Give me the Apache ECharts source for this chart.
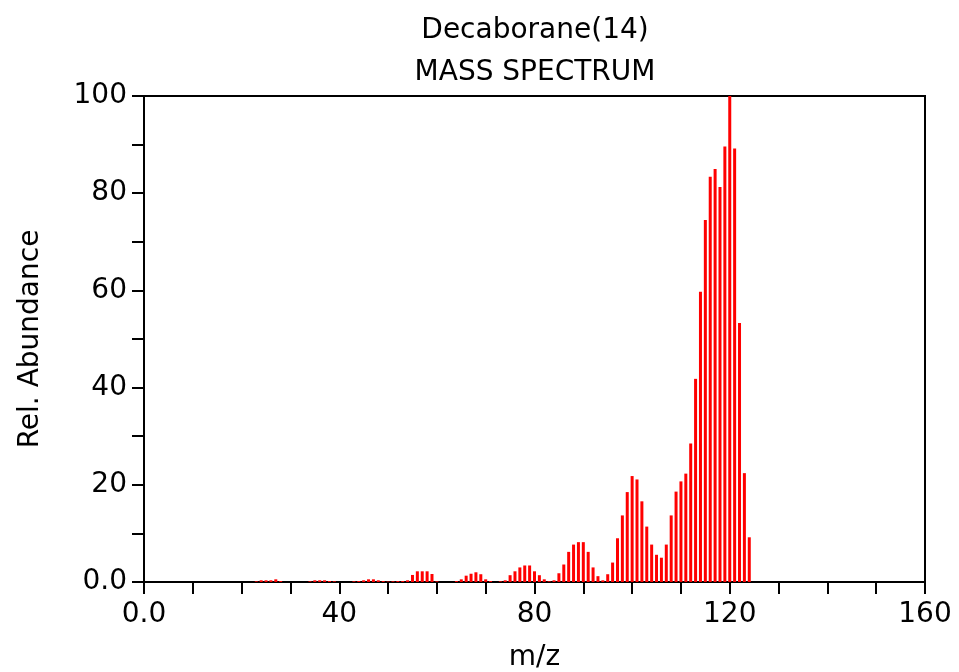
<!DOCTYPE html>
<html>
<head>
<meta charset="utf-8">
<script src="https://cdn.jsdelivr.net/npm/echarts@6/dist/echarts.min.js"></script>
<style>
  html, body { margin: 0; padding: 0; background: #fff; }
  #spectrum { width: 959px; height: 672px; }
</style>
</head>
<body>
<div id="spectrum"></div>
<script>
// m/z positions and relative abundance
let mz = [23, 24, 25, 26, 27, 28,
  34, 35, 36, 37, 38, 39,
  43, 44, 45, 46, 47, 48, 49, 50, 51, 52, 53, 54, 55, 56, 57, 58, 59, 60,
  64, 65, 66, 67, 68, 69, 70, 71,
  73, 74, 75, 76, 77, 78, 79, 80, 81, 82, 83, 84, 85, 86, 87, 88, 89, 90, 91, 92, 93, 94,
  95, 96, 97, 98, 99, 100, 101, 102, 103, 104, 105, 106, 107, 108, 109, 110, 111, 112,
  113, 114, 115, 116, 117, 118, 119, 120, 121, 122, 123, 124]
let abundance = [0.15, 0.35, 0.35, 0.35, 0.55, 0.2,
  0.15, 0.35, 0.35, 0.35, 0.2, 0.15,
  0.15, 0.2, 0.35, 0.55, 0.55, 0.35, 0.2, 0.1, 0.15, 0.2, 0.2, 0.35, 1.45, 2.2, 2.2, 2.2, 1.65, 0.15,
  0.2, 0.55, 1.3, 1.7, 2.0, 1.6, 0.55, 0.2,
  0.15, 0.35, 1.4, 2.2, 3.0, 3.4, 3.4, 2.2, 1.4, 0.55, 0.15, 0.35, 1.8, 3.6, 6.2, 7.7, 8.2, 8.2, 6.2, 3.0, 1.2, 0.35,
  1.6, 4.0, 9.0, 13.7, 18.5, 21.8, 21.1, 16.6, 11.4, 7.7, 5.6, 5.0, 7.7, 13.7, 18.6, 20.7, 22.3, 28.5,
  41.8, 59.7, 74.5, 83.4, 85.0, 81.3, 89.6, 100, 89.2, 53.3, 22.4, 9.2]
let titleLines = ['Decaborane(14)', 'MASS SPECTRUM']
let xTickLabels = {0: '0.0', 40: '40', 80: '80', 120: '120', 160: '160'}
let yTickLabels = {0: '0.0', 20: '20', 40: '40', 60: '60', 80: '80', 100: '100'}

let font = 'DejaVu Sans'
let peaks = mz.map((m, i) => [m, abundance[i]])

let myChart = echarts.init(document.getElementById('spectrum'))
myChart.setOption({
  animation: false,
  backgroundColor: '#fff',
  title: {
    text: titleLines.join('\n'),
    left: 530,
    top: 5,
    textAlign: 'center',
    textStyle: {
      fontFamily: font,
      fontSize: 28,
      fontWeight: 'normal',
      color: '#000',
      lineHeight: 42
    }
  },
  grid: {
    show: true,
    left: 144,
    right: 34,
    top: 96,
    bottom: 90,
    outerBoundsMode: 'none',
    borderColor: '#000',
    borderWidth: 2
  },
  xAxis: {
    type: 'value',
    min: 0,
    max: 160,
    interval: 10,
    name: 'm/z',
    nameLocation: 'middle',
    nameGap: 62,
    nameTextStyle: {fontFamily: font, fontSize: 28, color: '#000'},
    splitLine: {show: false},
    axisLine: {lineStyle: {color: '#000', width: 2}},
    axisTick: {length: 12, lineStyle: {color: '#000', width: 2}},
    axisLabel: {
      margin: 19,
      fontFamily: font,
      fontSize: 28,
      color: '#000',
      formatter: v => xTickLabels[v] || ''
    }
  },
  yAxis: {
    type: 'value',
    min: 0,
    max: 100,
    interval: 10,
    name: 'Rel. Abundance',
    nameLocation: 'middle',
    nameGap: 99,
    nameTextStyle: {fontFamily: font, fontSize: 28, color: '#000'},
    splitLine: {show: false},
    axisLine: {show: true, lineStyle: {color: '#000', width: 2}},
    axisTick: {show: true, length: 12, lineStyle: {color: '#000', width: 2}},
    axisLabel: {
      margin: 17,
      fontFamily: font,
      fontSize: 28,
      color: '#000',
      formatter: v => yTickLabels[v] || ''
    }
  },
  series: [
    {
      name: 'Decaborane(14)',
      type: 'bar',
      barWidth: 3,
      itemStyle: {color: '#ff0000'},
      data: peaks
    }
  ]
})
</script>
</body>
</html>
